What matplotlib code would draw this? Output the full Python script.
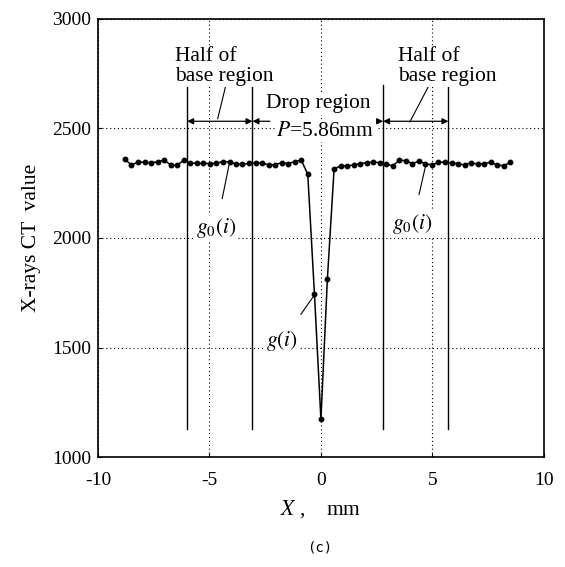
import matplotlib
matplotlib.use("Agg")
import matplotlib.pyplot as plt

plt.rcParams['font.family'] = ['Liberation Serif', 'DejaVu Serif']
plt.rcParams['mathtext.fontset'] = 'stix'
plt.rcParams['axes.unicode_minus'] = False

# CT profile across the drop (sample spacing ~0.293 mm)
x_mm = [-8.79, -8.50, -8.20, -7.91, -7.62, -7.33, -7.03, -6.74, -6.45, -6.15,
        -5.86, -5.57, -5.27, -4.98, -4.69, -4.40, -4.10, -3.81, -3.52, -3.22,
        -2.93, -2.64, -2.34, -2.05, -1.76, -1.47, -1.17, -0.88, -0.59, -0.29,
        0.00, 0.29, 0.59, 0.88, 1.17, 1.47, 1.76, 2.05, 2.34, 2.64,
        2.93, 3.22, 3.52, 3.81, 4.10, 4.40, 4.69, 4.98, 5.27, 5.57,
        5.86, 6.15, 6.45, 6.74, 7.03, 7.33, 7.62, 7.91, 8.20, 8.50]
ct_value = [2359, 2333, 2347, 2346, 2344, 2347, 2356, 2333, 2332, 2356,
            2343, 2341, 2341, 2340, 2341, 2349, 2347, 2338, 2336, 2341,
            2343, 2344, 2333, 2335, 2344, 2340, 2349, 2355, 2291, 1744,
            1172, 1813, 2314, 2330, 2330, 2333, 2340, 2343, 2347, 2344,
            2336, 2330, 2355, 2353, 2340, 2350, 2340, 2333, 2346, 2346,
            2343, 2340, 2333, 2344, 2336, 2340, 2346, 2333, 2330, 2346]

# region boundaries (drop region P = 5.86 mm, half base = P/2 each side)
bounds = [-6.00, -3.07, 2.79, 5.72]

fig = plt.figure(figsize=(5.65, 5.67), dpi=100)
ax = fig.add_axes([0.1735, 0.194, 0.789, 0.7725])

ax.set_xlim(-10, 10)
ax.set_ylim(1000, 3000)
ax.set_xticks([-10, -5, 0, 5, 10])
ax.set_yticks([1000, 1500, 2000, 2500, 3000])
ax.grid(True, color='black', linestyle=(0, (1, 2.5)), linewidth=0.8)
ax.tick_params(direction='in', length=3, labelsize=14)
ax.tick_params(axis='x', pad=11)
ax.tick_params(axis='y', pad=5)
for s in ax.spines.values():
    s.set_linewidth(1.2)

# boundary lines
for b in bounds:
    ax.plot([b, b], [1130, 2700], color='black', linewidth=1.0)

# profile
ax.plot(x_mm, ct_value, color='black', linewidth=1.1, marker='o', markersize=3.2)

txt_bg = dict(facecolor='white', edgecolor='none', pad=1)
fs = 15.5

# arrows
arr_y = 2533
arrow_kw = dict(arrowstyle='<|-|>', color='black', lw=0.9, mutation_scale=9, shrinkA=0, shrinkB=0)
ax.annotate('', xy=(bounds[0], arr_y), xytext=(bounds[1], arr_y), arrowprops=arrow_kw)
ax.annotate('', xy=(bounds[2], arr_y), xytext=(bounds[3], arr_y), arrowprops=arrow_kw)
one_kw = dict(arrowstyle='-|>', color='black', lw=0.9, mutation_scale=9, shrinkA=0, shrinkB=0)
ax.annotate('', xy=(bounds[1], arr_y), xytext=(-2.29, arr_y), arrowprops=one_kw)
ax.annotate('', xy=(bounds[2], arr_y), xytext=(2.05, arr_y), arrowprops=one_kw)

# labels
ax.text(-6.55, 2695, 'Half of\nbase region', fontsize=fs, ha='left', va='bottom',
        linespacing=1.05, bbox=txt_bg)
ax.text(3.45, 2695, 'Half of\nbase region', fontsize=fs, ha='left', va='bottom',
        linespacing=1.05, bbox=txt_bg)
ax.text(-0.13, 2612, 'Drop region', fontsize=fs, ha='center', va='center', bbox=txt_bg)
ax.text(0.2, 2488, '$P$=5.86mm', fontsize=fs, ha='center', va='center', bbox=txt_bg)

ax.plot([-4.23, -4.63], [2712, 2545], color='black', linewidth=0.8)
ax.plot([4.89, 3.99], [2705, 2530], color='black', linewidth=0.8)

ax.annotate('$g_0(i)$', xy=(-4.11, 2340), xytext=(-4.7, 2044), fontsize=fs,
            ha='center', va='center', bbox=txt_bg,
            arrowprops=dict(arrowstyle='-', color='black', lw=0.8, shrinkA=12, shrinkB=0))
ax.annotate('$g_0(i)$', xy=(4.71, 2336), xytext=(4.1, 2063), fontsize=fs,
            ha='center', va='center', bbox=txt_bg,
            arrowprops=dict(arrowstyle='-', color='black', lw=0.8, shrinkA=12, shrinkB=0))
ax.annotate('$g(i)$', xy=(-0.27, 1743), xytext=(-1.75, 1528), fontsize=fs,
            ha='center', va='center', bbox=txt_bg,
            arrowprops=dict(arrowstyle='-', color='black', lw=0.8, shrinkA=12, shrinkB=0))

ax.set_ylabel('X-rays CT  value', fontsize=fs, labelpad=8)
ax.set_xlabel('$X$ ,    mm', fontsize=fs, labelpad=6)

fig.text(0.565, 0.035, '(c)', fontsize=10, ha='center', va='center', family='DejaVu Sans Mono')

fig.savefig('out.png', dpi=100)
